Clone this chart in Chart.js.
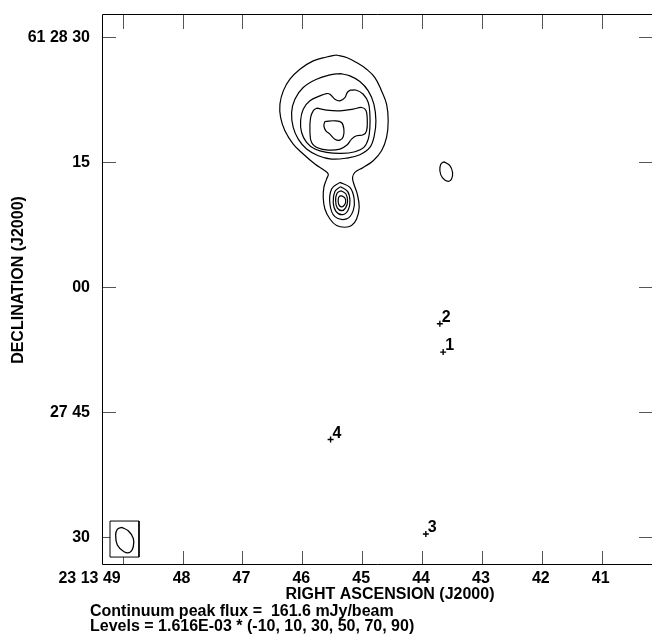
<!DOCTYPE html>
<html>
<head>
<meta charset="utf-8">
<script src="https://cdn.jsdelivr.net/npm/chart.js@4"></script>
<style>
  html, body { margin: 0; padding: 0; background: #fff; overflow: hidden; }
  canvas { display: block; }
</style>
</head>
<body>
<canvas id="map" width="652" height="636"></canvas>
<script>
// Axes: RA in seconds of time past 23h13m, Dec in arcsec past +61°27'00"
const raTicks = [49, 48, 47, 46, 45, 44, 43, 42, 41];
const raTickLabels = ['23 13 49', '48', '47', '46', '45', '44', '43', '42', '41'];
const decTicks = [90, 75, 60, 45, 30];
const decTickLabels = ['61 28 30', '15', '00', '27 45', '30'];

// Continuum contours, [RA s, Dec "] vertices
const level10Main = [
  [45.428, 87.84], [45.595, 87.60], [45.818, 87.13], [46.040, 86.13], [46.207, 84.93],
  [46.318, 83.53], [46.374, 81.94], [46.363, 80.34], [46.291, 78.74], [46.152, 77.15],
  [45.985, 75.95], [45.790, 74.75], [45.623, 73.95], [45.567, 73.55], [45.595, 72.95],
  [45.640, 71.96], [45.651, 70.76], [45.623, 69.36], [45.539, 68.16], [45.428, 67.37],
  [45.289, 67.17], [45.178, 67.37], [45.094, 68.16], [45.050, 69.56], [45.083, 71.16],
  [45.139, 72.36], [45.161, 73.15], [45.122, 73.75], [44.983, 74.35], [44.816, 75.15],
  [44.677, 76.35], [44.593, 77.94], [44.566, 79.94], [44.593, 81.94], [44.677, 83.53],
  [44.788, 85.13], [44.927, 86.13], [45.094, 86.93], [45.261, 87.53], [45.428, 87.84]
];
const level30Main = [
  [45.372, 85.61], [45.539, 85.45], [45.762, 84.93], [45.985, 83.93], [46.124, 82.54],
  [46.179, 80.94], [46.152, 79.14], [46.068, 77.74], [45.929, 76.55], [45.734, 75.75],
  [45.512, 75.35], [45.261, 75.47], [45.039, 75.87], [44.872, 76.75], [44.799, 78.14],
  [44.771, 79.94], [44.805, 81.94], [44.899, 83.53], [45.039, 84.65], [45.205, 85.33],
  [45.372, 85.61]
];
const level50Main = [
  [45.205, 83.61], [45.250, 83.33], [45.289, 82.73], [45.372, 82.34], [45.456, 82.54],
  [45.539, 83.13], [45.595, 83.21], [45.706, 82.93], [45.873, 82.34], [45.985, 81.34],
  [46.029, 79.94], [46.012, 78.54], [45.929, 77.35], [45.790, 76.55], [45.595, 76.15],
  [45.345, 76.03], [45.122, 76.23], [44.972, 76.75], [44.899, 77.74], [44.872, 79.14],
  [44.872, 80.74], [44.899, 82.14], [44.983, 83.13], [45.094, 83.61], [45.205, 83.61]
];
const level70Main = [
  [45.762, 81.46], [45.595, 81.22], [45.372, 81.14], [45.150, 81.34], [45.011, 81.54],
  [44.938, 81.22], [44.916, 80.14], [44.927, 78.74], [44.983, 78.26], [45.094, 78.14],
  [45.178, 77.74], [45.250, 77.07], [45.372, 76.55], [45.567, 76.43], [45.734, 76.67],
  [45.845, 77.35], [45.873, 78.74], [45.862, 80.34], [45.818, 81.14], [45.762, 81.46]
];
const level90Main = [
  [45.623, 79.86], [45.456, 79.94], [45.345, 79.74], [45.306, 78.94], [45.317, 78.02],
  [45.372, 77.62], [45.456, 77.74], [45.539, 78.34], [45.606, 78.74], [45.640, 79.34],
  [45.623, 79.86]
];
const level30Core = [
  [45.372, 72.55], [45.205, 71.95], [45.134, 70.56], [45.150, 69.16], [45.260, 68.17],
  [45.456, 68.44], [45.539, 69.96], [45.511, 71.76], [45.372, 72.55]
];
const level50Core = [
  [45.361, 72.04], [45.244, 71.47], [45.205, 70.36], [45.234, 69.25], [45.327, 68.68],
  [45.439, 69.08], [45.484, 70.16], [45.456, 71.47], [45.361, 72.04]
];
const level70Core = [
  [45.356, 71.56], [45.272, 71.16], [45.244, 70.28], [45.277, 69.49], [45.339, 69.16],
  [45.417, 69.49], [45.444, 70.36], [45.422, 71.23], [45.356, 71.56]
];
const level90Core = [
  [45.344, 70.96], [45.289, 70.68], [45.277, 70.16], [45.317, 69.68], [45.361, 69.64],
  [45.394, 69.96], [45.401, 70.48], [45.384, 70.84], [45.344, 70.96]
];
const level10East = [
  [43.636, 75.03], [43.536, 74.55], [43.491, 73.75], [43.508, 72.96], [43.564, 72.67],
  [43.658, 73.08], [43.703, 73.95], [43.686, 74.75], [43.636, 75.03]
];

// Restoring beam and its box
const beamShape = [
  [49.017, 31.16], [48.907, 30.75], [48.823, 29.84], [48.823, 28.84], [48.878, 28.17],
  [48.978, 28.24], [49.090, 29.04], [49.117, 30.24], [49.090, 30.92], [49.017, 31.16]
];
const beamBox = [[49.212, 31.92], [48.728, 31.92], [48.728, 27.60], [49.212, 27.60], [49.212, 31.92]];

// Marked positions
const markerNames = ['1', '2', '3', '4'];
const markerRA = [43.648, 43.703, 43.937, 45.528];
const markerDec = [52.19, 55.59, 30.36, 41.70];

const footerLines = [
  'Continuum peak flux =  161.6 mJy/beam',
  'Levels = 1.616E-03 * (-10, 10, 30, 50, 70, 90)'
];

const FONT = 'bold 16px "Liberation Sans", Arial, Helvetica, sans-serif';

const toPts = arr => arr.map(p => ({ x: p[0], y: p[1] }));
const contourSet = (arr) => ({
  data: toPts(arr),
  showLine: true,
  borderColor: '#000',
  borderWidth: 1.2,
  pointRadius: 0,
  tension: 0.4,
  fill: false,
  order: 1
});

const contours = [level10Main, level30Main, level50Main, level70Main, level90Main,
  level30Core, level50Core, level70Core, level90Core, level10East];

const datasets = [
  {
    data: toPts(beamBox), showLine: true, borderColor: '#000', borderWidth: 1,
    pointRadius: 0, tension: 0, fill: 'shape', backgroundColor: '#fff', order: 5
  },
  Object.assign(contourSet(beamShape), { borderWidth: 1.3 }),
  ...contours.map(contourSet),
  {
    data: markerRA.map((r, i) => ({ x: r, y: markerDec[i] })),
    showLine: false, pointStyle: 'cross', pointRadius: 3,
    borderColor: '#000', borderWidth: 1.4, backgroundColor: '#000', order: 0
  }
];

const framePlugin = {
  id: 'frame',
  beforeDatasetsDraw(chart) {
    const { ctx, chartArea: a, scales: { x, y } } = chart;
    ctx.save();
    ctx.strokeStyle = '#555';
    ctx.lineWidth = 1;
    ctx.beginPath();
    raTicks.forEach(v => {
      const px = Math.round(x.getPixelForValue(v)) + 0.5;
      ctx.moveTo(px, a.bottom); ctx.lineTo(px, a.bottom - 13);
      ctx.moveTo(px, a.top); ctx.lineTo(px, a.top + 14);
    });
    decTicks.forEach(v => {
      const py = Math.round(y.getPixelForValue(v)) + 0.5;
      ctx.moveTo(a.left, py); ctx.lineTo(a.left + 13, py);
      ctx.moveTo(a.right, py); ctx.lineTo(a.right - 13, py);
    });
    ctx.stroke();
    ctx.restore();
  },
  afterDatasetsDraw(chart) {
    const { ctx, chartArea: a, scales: { x, y } } = chart;
    ctx.save();
    // frame
    ctx.strokeStyle = '#000';
    ctx.lineWidth = 1;
    ctx.beginPath();
    ctx.moveTo(a.right + 1, a.top - 0.5);
    ctx.lineTo(a.left - 0.5, a.top - 0.5);
    ctx.lineTo(a.left - 0.5, a.bottom + 0.5);
    ctx.lineTo(a.right + 1, a.bottom + 0.5);
    ctx.stroke();

    ctx.fillStyle = '#000';
    ctx.font = FONT;
    // RA tick labels
    ctx.textBaseline = 'middle';
    raTicks.forEach((v, i) => {
      const px = x.getPixelForValue(v);
      if (i === 0) {
        ctx.textAlign = 'right';
        ctx.fillText(raTickLabels[i], px - 2, a.bottom + 15);
      } else {
        ctx.textAlign = 'center';
        ctx.fillText(raTickLabels[i], px - 1, a.bottom + 15);
      }
    });
    // Dec tick labels
    ctx.textAlign = 'right';
    decTicks.forEach((v, i) => {
      ctx.fillText(decTickLabels[i], a.left - 13, y.getPixelForValue(v) + 1);
    });
    // axis titles
    ctx.textAlign = 'center';
    ctx.fillText('RIGHT ASCENSION (J2000)', 390, a.bottom + 31);
    ctx.save();
    ctx.translate(19, 280);
    ctx.rotate(-Math.PI / 2);
    ctx.fillText('DECLINATION (J2000)', 0, 0);
    ctx.restore();
    // footer
    ctx.textAlign = 'left';
    footerLines.forEach((t, i) => ctx.fillText(t, 90, a.bottom + 48 + i * 15));
    // marker labels
    ctx.textBaseline = 'alphabetic';
    markerNames.forEach((n, i) => {
      const px = x.getPixelForValue(markerRA[i]);
      const py = y.getPixelForValue(markerDec[i]);
      ctx.fillText(n, px + 2, py - 2);
    });
    ctx.restore();
  }
};

new Chart(document.getElementById('map'), {
  type: 'scatter',
  data: { datasets },
  options: {
    responsive: false,
    animation: false,
    devicePixelRatio: 1,
    layout: { autoPadding: false, padding: { left: 103, top: 15, right: 0, bottom: 72 } },
    plugins: { legend: { display: false }, tooltip: { enabled: false } },
    scales: {
      x: { type: 'linear', reverse: true, min: 40.160, max: 49.329, display: false },
      y: { type: 'linear', min: 26.766, max: 92.635, display: false }
    }
  },
  plugins: [framePlugin]
});
</script>
</body>
</html>
